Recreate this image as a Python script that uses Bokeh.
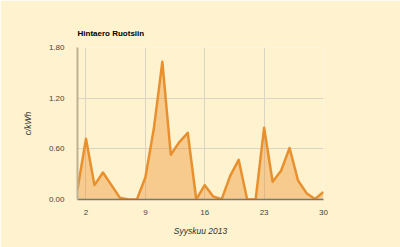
from bokeh.plotting import figure
from bokeh.models import Range1d, FixedTicker, NumeralTickFormatter, ColumnDataSource
from bokeh.embed import file_html
from bokeh.resources import INLINE

days = list(range(1, 31))
price_diff = [0.12, 0.72, 0.17, 0.32, 0.17, 0.02, 0.0, 0.0, 0.26, 0.84,
              1.63, 0.53, 0.68, 0.79, 0.0, 0.17, 0.035, 0.005, 0.28, 0.47,
              0.0, 0.0, 0.85, 0.21, 0.34, 0.61, 0.225, 0.075, 0.005, 0.09]
x_ticks = [2, 9, 16, 23, 30]
y_ticks = [0.0, 0.6, 1.2, 1.8]

BG = "#FFF2CE"
ORANGE = "#E8902E"

src = ColumnDataSource(dict(x=days, y=price_diff, base=[0.0] * len(days)))

p = figure(width=400, height=247, output_backend="svg", toolbar_location=None,
           x_range=Range1d(1, 30), y_range=Range1d(0, 1.8),
           min_border_left=77, min_border_right=77, min_border_top=47,
           min_border_bottom=48)
p.background_fill_color = BG
p.border_fill_color = BG
p.outline_line_color = None

p.title.text = "Hintaero Ruotsiin"
p.title.text_font = "Liberation Sans"
p.title.text_font_size = "8px"
p.title.text_font_style = "bold"
p.title.text_color = "#000000"
p.title.align = "left"
p.title.standoff = 19

p.varea(x="x", y1="base", y2="y", source=src, fill_color=ORANGE, fill_alpha=0.4)
p.line(x="x", y="y", source=src, line_color=ORANGE, line_width=2.5, line_join="round")

p.xaxis.ticker = FixedTicker(ticks=x_ticks)
p.yaxis.ticker = FixedTicker(ticks=y_ticks)
p.yaxis.formatter = NumeralTickFormatter(format="0.00")

for ax in (p.xaxis[0], p.yaxis[0]):
    ax.major_tick_line_color = None
    ax.minor_tick_line_color = None
    ax.major_label_text_font = "Liberation Sans"
    ax.major_label_text_font_size = "8px"
    ax.major_label_text_color = "#444444"
    ax.axis_label_text_font = "Liberation Sans"
    ax.axis_label_text_font_size = "8.5px"
    ax.axis_label_text_font_style = "italic"
    ax.axis_label_text_color = "#333333"

p.xaxis.axis_label = "Syyskuu 2013"
p.yaxis.axis_label = "c/kWh"
p.xaxis.major_label_standoff = 4
p.yaxis.major_label_standoff = 7
p.xaxis.axis_label_standoff = 8
p.yaxis.axis_label_standoff = 13
p.xaxis.axis_line_color = "#777777"
p.xaxis.axis_line_width = 1.5
p.yaxis.axis_line_color = "#BDB394"
p.yaxis.axis_line_width = 2

p.xgrid.grid_line_color = "#D9D4C4"
p.ygrid.grid_line_color = "#D9D4C4"

open("out.html", "w").write(file_html(p, INLINE))
